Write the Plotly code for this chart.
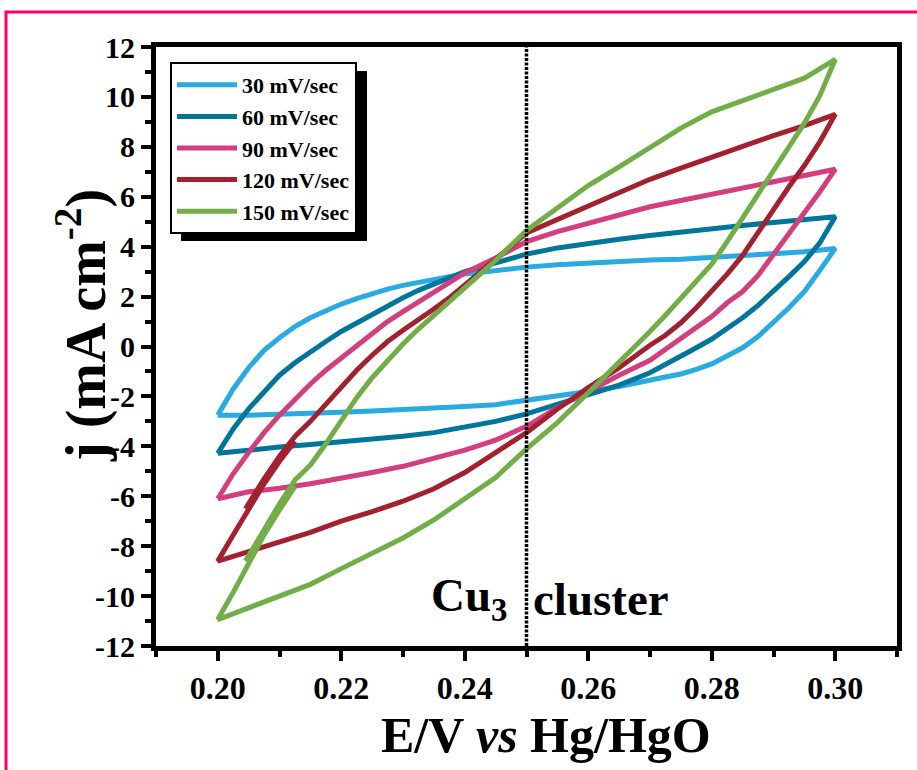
import plotly.graph_objects as go

# Potential grid (V vs Hg/HgO) for the anodic (forward) and cathodic (reverse) sweeps
E_FWD = [0.200, 0.2025, 0.205, 0.2075, 0.210, 0.2125, 0.215, 0.2175, 0.220, 0.2225,
         0.225, 0.2275, 0.230, 0.2325, 0.235, 0.2375, 0.240, 0.245, 0.250, 0.255,
         0.260, 0.265, 0.270, 0.275, 0.280, 0.285, 0.290, 0.295, 0.300]
E_REV = [0.300, 0.2975, 0.295, 0.2925, 0.290, 0.2875, 0.285, 0.2825, 0.280, 0.2775,
         0.275, 0.2725, 0.270, 0.265, 0.260, 0.255, 0.250, 0.245, 0.240, 0.235,
         0.230, 0.225, 0.220, 0.215, 0.210, 0.205, 0.200]
# Start of the recorded sweep for the two fastest rates (overlaps the final sweep)
E_LEAD = [0.2045, 0.2075, 0.210, 0.2125]

# Current density (mA cm^-2)
J30_FWD = [-2.75, -1.7, -0.85, -0.15, 0.35, 0.8, 1.15, 1.45, 1.7, 1.92,
           2.12, 2.3, 2.45, 2.58, 2.7, 2.8, 2.9, 3.05, 3.18, 3.28,
           3.35, 3.42, 3.47, 3.5, 3.56, 3.65, 3.72, 3.8, 3.93]
J30_REV = [3.93, 3.05, 2.2, 1.55, 0.95, 0.4, -0.05, -0.4, -0.7, -0.92,
           -1.1, -1.22, -1.35, -1.6, -1.8, -1.98, -2.2, -2.33, -2.4, -2.47,
           -2.53, -2.58, -2.63, -2.68, -2.72, -2.75, -2.75]

J60_FWD = [-4.28, -3.3, -2.5, -1.8, -1.15, -0.65, -0.2, 0.2, 0.6, 0.95,
           1.3, 1.65, 1.95, 2.25, 2.5, 2.75, 3.0, 3.35, 3.7, 3.95,
           4.15, 4.3, 4.45, 4.6, 4.72, 4.85, 4.97, 5.08, 5.2]
J60_REV = [5.2, 4.15, 3.4, 2.8, 2.2, 1.65, 1.15, 0.7, 0.3, -0.05,
           -0.4, -0.75, -1.05, -1.55, -1.95, -2.3, -2.7, -3.0, -3.25, -3.45,
           -3.6, -3.72, -3.83, -3.93, -4.03, -4.13, -4.28]

J90_FWD = [-6.1, -5.1, -4.25, -3.45, -2.75, -2.1, -1.5, -0.95, -0.45, 0.05,
           0.55, 1.0, 1.4, 1.8, 2.15, 2.55, 2.95, 3.55, 4.2, 4.6,
           4.95, 5.3, 5.6, 5.85, 6.1, 6.35, 6.6, 6.85, 7.1]
J90_REV = [7.1, 6.2, 5.35, 4.5, 3.65, 2.85, 2.2, 1.75, 1.2, 0.75,
           0.3, -0.1, -0.55, -1.15, -1.8, -2.45, -3.2, -3.75, -4.15, -4.5,
           -4.8, -5.05, -5.3, -5.5, -5.68, -5.82, -6.1]

J120_FWD = [-8.6, -7.55, -6.5, -5.5, -4.6, -3.8, -3.0, -2.3, -1.6, -0.95,
            -0.35, 0.2, 0.65, 1.05, 1.5, 1.95, 2.45, 3.5, 4.55, 5.1,
            5.65, 6.2, 6.7, 7.15, 7.6, 8.05, 8.45, 8.85, 9.3]
J120_REV = [9.3, 8.2, 7.25, 6.4, 5.5, 4.6, 3.65, 2.9, 2.2, 1.55,
            0.95, 0.45, 0.05, -0.85, -1.65, -2.5, -3.45, -4.25, -5.05, -5.7,
            -6.2, -6.62, -7.0, -7.45, -7.85, -8.2, -8.6]
J120_LEAD = [-6.5, -5.3, -4.4, -3.6]

J150_FWD = [-10.95, -9.85, -8.65, -7.55, -6.55, -5.6, -4.75, -3.9, -3.0, -2.05,
            -1.25, -0.55, 0.1, 0.7, 1.25, 1.75, 2.3, 3.45, 4.65, 5.55,
            6.45, 7.2, 7.95, 8.75, 9.4, 9.85, 10.25, 10.75, 11.5]
J150_REV = [11.5, 10.05, 8.95, 8.0, 7.0, 6.05, 5.15, 4.2, 3.3, 2.6,
            1.95, 1.25, 0.6, -0.65, -1.85, -3.05, -4.1, -5.25, -6.1, -6.95,
            -7.67, -8.26, -8.9, -9.53, -10.0, -10.42, -10.94]
J150_LEAD = [-8.6, -7.3, -6.3, -5.35]

SERIES = ["30 mV/sec", "60 mV/sec", "90 mV/sec", "120 mV/sec", "150 mV/sec"]
COLORS = ["#29ABE2", "#00759B", "#D33F7E", "#A3202F", "#72AE48"]

X_TICKS = [0.20, 0.22, 0.24, 0.26, 0.28, 0.30]
X_TICK_TEXT = ["0.20", "0.22", "0.24", "0.26", "0.28", "0.30"]
Y_TICKS = [-12, -10, -8, -6, -4, -2, 0, 2, 4, 6, 8, 10, 12]
Y_TICK_TEXT = ["-12", "-10", "-8", "-6", "-4", "-2", "0", "2", "4", "6", "8", "10", "12"]

FONT = "Liberation Serif"


def cycle(j_fwd, j_rev, j_lead=None):
    """Join forward and reverse sweeps into one closed CV loop."""
    if j_lead is None:
        return E_FWD + E_REV[1:], j_fwd + j_rev[1:]
    k = E_FWD.index(E_LEAD[-1])
    x = E_LEAD + E_FWD[k + 1:] + E_REV[1:] + E_FWD[1:k + 1]
    y = j_lead + j_fwd[k + 1:] + j_rev[1:] + j_fwd[1:k + 1]
    return x, y


loops = [
    cycle(J30_FWD, J30_REV),
    cycle(J60_FWD, J60_REV),
    cycle(J90_FWD, J90_REV),
    cycle(J120_FWD, J120_REV, J120_LEAD),
    cycle(J150_FWD, J150_REV, J150_LEAD),
]

fig = go.Figure()
for name, color, (x, y) in zip(SERIES, COLORS, loops):
    fig.add_trace(go.Scatter(x=x, y=y, mode="lines", name=name,
                             line=dict(color=color, width=5)))

# plot-area geometry in pixels
W, H = 917, 770
ML, MR, MT, MB = 156, 20, 47, 124
PW, PH = W - ML - MR, H - MT - MB


def px(xp):
    return (xp - ML) / PW


def py(yp):
    return (H - MB - yp) / PH


axis_common = dict(
    showline=True, linecolor="black", linewidth=5, mirror=True,
    ticks="outside", ticklen=10, tickwidth=4, tickcolor="black",
    showgrid=False, zeroline=False,
)

fig.update_xaxes(range=[0.19, 0.31], tickvals=X_TICKS, ticktext=X_TICK_TEXT,
                 tickfont=dict(family=FONT, size=32, color="black", weight="bold"),
                 minor=dict(dtick=0.01, tick0=0.19, ticks="outside", ticklen=6,
                            tickwidth=4, tickcolor="black", showgrid=False),
                 **axis_common)
fig.update_yaxes(range=[-12, 12], tickvals=Y_TICKS, ticktext=Y_TICK_TEXT,
                 tickfont=dict(family=FONT, size=30, color="black", weight="bold"),
                 minor=dict(dtick=1, tick0=-12, ticks="outside", ticklen=6,
                            tickwidth=4, tickcolor="black", showgrid=False),
                 **axis_common)

shapes = [
    # reference potential marker
    dict(type="line", xref="x", yref="paper", x0=0.25, x1=0.25, y0=0, y1=1,
         line=dict(color="black", width=3.5, dash="3px,1.5px"), layer="above"),
    # legend drop shadow
    dict(type="rect", xref="paper", yref="paper",
         x0=px(181), x1=px(367), y0=py(241), y1=py(71),
         fillcolor="black", line=dict(width=0), layer="above"),
    # outer frame
    dict(type="rect", xref="paper", yref="paper",
         x0=px(6), x1=px(930), y0=py(790), y1=py(12),
         line=dict(color="#FF0066", width=3), fillcolor="rgba(0,0,0,0)"),
]

annotations = [
    dict(text="Cu<sub>3</sub>", x=0.2473, y=-10.1, xref="x", yref="y",
         xanchor="right", yanchor="middle", showarrow=False,
         font=dict(family=FONT, size=47, color="black", weight="bold")),
    dict(text="cluster", x=0.2508, y=-10.1, xref="x", yref="y",
         xanchor="left", yanchor="middle", showarrow=False,
         font=dict(family=FONT, size=47, color="black", weight="bold")),
    dict(text="E/V <i>vs</i> Hg/HgO", x=px(546), y=py(735), xref="paper",
         yref="paper", xanchor="center", yanchor="middle", showarrow=False,
         font=dict(family=FONT, size=50, color="black", weight="bold")),
    dict(text="j (mA cm<sup>-2</sup>)", x=px(82), y=py(326), xref="paper",
         yref="paper", xanchor="center", yanchor="middle", textangle=-90,
         showarrow=False,
         font=dict(family=FONT, size=56, color="black", weight="bold")),
]

fig.update_layout(
    width=W, height=H,
    margin=dict(l=ML, r=MR, t=MT, b=MB),
    paper_bgcolor="white", plot_bgcolor="white",
    showlegend=True,
    legend=dict(x=px(170), y=py(62), xanchor="left", yanchor="top",
                bgcolor="white", bordercolor="black", borderwidth=2,
                itemwidth=60,
                font=dict(family=FONT, size=22, color="black", weight="bold")),
    shapes=shapes,
    annotations=annotations,
)

fig.write_html("out.html")
